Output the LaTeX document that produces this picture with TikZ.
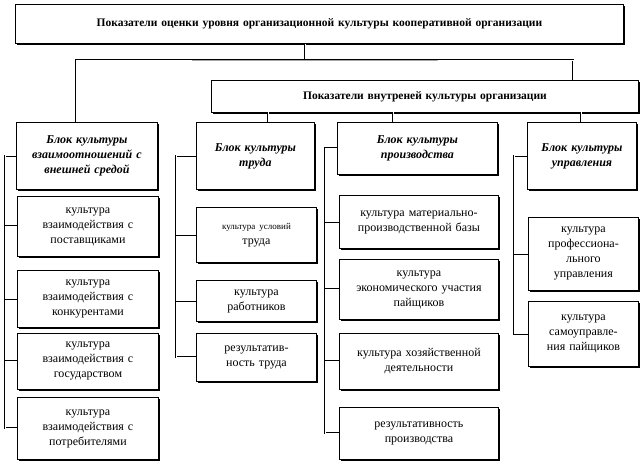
\documentclass[tikz,border=0pt]{standalone}
\usepackage{fontspec}
\setmainfont{Liberation Serif}
\usetikzlibrary{shadows}
\begin{document}
\begin{tikzpicture}[x=1pt,y=-1pt,
 bx/.style={draw,line width=0.9pt,fill=white,align=center,anchor=north west,inner sep=1pt,
   drop shadow={shadow xshift=1.6pt,shadow yshift=-1.6pt,opacity=1,fill=black},font=\fontsize{12}{15}\selectfont},
 hd/.style={font=\fontsize{12}{15}\selectfont\bfseries\itshape},
 conn/.style={double,double distance=1pt,line width=0.5pt}]
\useasboundingbox (0,0) rectangle (640,464);
\newcommand{\bx}[7][]{\node[bx,#1,minimum width={#4-#2},minimum height={#5-#3},text width={#4-#2-4}] (#7) at (#2,#3) {#6};}
\bx[font=\fontsize{11.5}{14}\selectfont\bfseries]{15}{4}{623}{43}{Показатели оценки уровня организационной культуры кооперативной организации\\[8pt]}{top}
\bx[font=\fontsize{11.5}{14}\selectfont\bfseries]{211}{80}{638}{112}{Показатели внутреней культуры организации}{int}
\bx[hd]{16}{122}{157}{189}{Блок культуры\\взаимоотношений с\\внешней средой}{b1}
\bx[hd]{196}{122}{314}{189}{Блок культуры\\труда\\[20pt]}{b2}
\bx[hd]{337}{122}{497}{174}{Блок культуры\\производства}{b3}
\bx[hd]{527}{122}{636}{189}{Блок культуры\\управления\\[20pt]}{b4}
\bx{17}{196}{158}{256}{культура\\взаимодействия с\\поставщиками}{c11}
\bx{17}{270}{158}{327}{культура\\взаимодействия с\\конкурентами}{c12}
\bx{17}{333}{158}{389}{культура\\взаимодействия с\\государством}{c13}
\bx{17}{397}{158}{459}{культура\\взаимодействия с\\потребителями}{c14}
\bx{196}{207}{316}{262}{{\fontsize{9}{11}\selectfont культура условий}\\труда\\[16pt]}{c21}
\bx{196}{280}{316}{321}{культура\\работников}{c22}
\bx{196}{333}{316}{381}{результатив-\\ность труда}{c23}
\bx{339}{195}{498}{248}{культура материально-\\производственной базы}{c31}
\bx{339}{259}{498}{319}{культура\\экономического участия\\пайщиков}{c32}
\bx{339}{333}{498}{389}{культура хозяйственной\\деятельности\\[14pt]}{c33}
\bx{339}{407}{498}{459}{результативность\\производства}{c34}
\bx{528}{217}{638}{290}{культура\\профессиона-\\льного\\управления}{c41}
\bx{528}{301}{638}{366}{культура\\самоуправле-\\ния пайщиков}{c42}
\coordinate (h) at (305,60);
\coordinate (ir) at (573,80);
\coordinate (bus1) at (5,0);
\coordinate (bus2) at (176,0);
\coordinate (bus3) at (325,0);
\coordinate (bus4) at (514,0);
\draw[conn] (top.south -| h) -- (h);
\draw[conn] (b1.north -| 76,0) |- (h) -| (ir);
\draw[conn] (268,112) -- (268,122);
\draw[conn] (393,112) -- (393,122);
\draw[conn] (581,112) -- (581,122);
\draw[conn] (b1.west) -- (b1.west -| bus1) -- (c14.west -| bus1) -- (c14.west);
\foreach \c in {c11,c12,c13} \draw[conn] (\c.west) -- (\c.west -| bus1);
\draw[conn] (b2.west) -- (b2.west -| bus2) -- (c23.west -| bus2) -- (c23.west);
\foreach \c in {c21,c22} \draw[conn] (\c.west) -- (\c.west -| bus2);
\draw[conn] (b3.west) -- (b3.west -| bus3) -- (c34.west -| bus3) -- (c34.west);
\foreach \c in {c31,c32,c33} \draw[conn] (\c.west) -- (\c.west -| bus3);
\draw[conn] (b4.west) -- (b4.west -| bus4) -- (c42.west -| bus4) -- (c42.west);
\draw[conn] (c41.west) -- (c41.west -| bus4);
\end{tikzpicture}
\end{document}
